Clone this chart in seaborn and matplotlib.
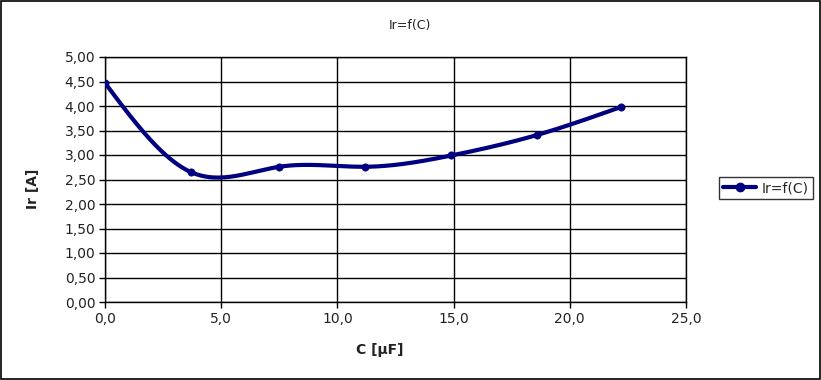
import numpy as np
import pandas as pd
import matplotlib
matplotlib.use("Agg")
import matplotlib.pyplot as plt
import seaborn as sns
from matplotlib.patches import Rectangle
from matplotlib.lines import Line2D
from matplotlib.ticker import FuncFormatter

# data
c_uF = [0.0, 3.7, 7.5, 11.2, 14.9, 18.6, 22.2]
ir_A = [4.47, 2.65, 2.76, 2.76, 2.99, 3.41, 3.98]
x_ticks = [0, 5, 10, 15, 20, 25]
y_ticks = [0, 0.5, 1, 1.5, 2, 2.5, 3, 3.5, 4, 4.5, 5]

LINE_COLOR = "#000080"


def natural_spline(x, y, n=400):
    # smooth line through the points, like the office "cubic spline" option
    x = np.asarray(x, float)
    y = np.asarray(y, float)
    k = len(x)
    h = np.diff(x)
    A = np.zeros((k, k))
    b = np.zeros(k)
    A[0, 0] = A[-1, -1] = 1
    for i in range(1, k - 1):
        A[i, i - 1] = h[i - 1]
        A[i, i] = 2 * (h[i - 1] + h[i])
        A[i, i + 1] = h[i]
        b[i] = 6 * ((y[i + 1] - y[i]) / h[i] - (y[i] - y[i - 1]) / h[i - 1])
    m = np.linalg.solve(A, b)
    xs = np.linspace(x[0], x[-1], n)
    idx = np.clip(np.searchsorted(x, xs) - 1, 0, k - 2)
    t0 = xs - x[idx]
    t1 = x[idx + 1] - xs
    hh = h[idx]
    ys = (m[idx] * t1 ** 3 + m[idx + 1] * t0 ** 3) / (6 * hh) \
        + (y[idx] / hh - m[idx] * hh / 6) * t1 \
        + (y[idx + 1] / hh - m[idx + 1] * hh / 6) * t0
    return xs, ys


sns.set_style("white")
plt.rcParams["font.family"] = ["DejaVu Sans"]

fig = plt.figure(figsize=(8.21, 3.80), dpi=100)
ax = fig.add_axes([105 / 821, 78 / 380, 581 / 821, 245 / 380])

xs, ys = natural_spline(c_uF, ir_A)
curve = pd.DataFrame({"C": xs, "Ir": ys})
points = pd.DataFrame({"C": c_uF, "Ir": ir_A})

sns.lineplot(data=curve, x="C", y="Ir", ax=ax, color=LINE_COLOR, linewidth=3,
             sort=False, zorder=3)
sns.scatterplot(data=points, x="C", y="Ir", ax=ax, color=LINE_COLOR, s=28,
                edgecolor=LINE_COLOR, zorder=4)

ax.set_xlim(0, 25)
ax.set_ylim(0, 5)
ax.set_xticks(x_ticks)
ax.set_yticks(y_ticks)
ax.xaxis.set_major_formatter(FuncFormatter(lambda v, p: f"{v:.1f}".replace(".", ",")))
ax.yaxis.set_major_formatter(FuncFormatter(lambda v, p: f"{v:.2f}".replace(".", ",")))
ax.grid(True, color="black", linewidth=1)
ax.tick_params(axis="both", direction="out", length=4, width=1, color="black",
               labelsize=10, labelcolor="#222222", pad=3, left=True, bottom=True)
for s in ax.spines.values():
    s.set_color("black")
    s.set_linewidth(1)
ax.set_xlabel("")
ax.set_ylabel("")

fig.text(410 / 821, 1 - 25 / 380, "Ir=f(C)", ha="center", va="center", fontsize=9,
         color="#222222")
fig.text(380 / 821, 1 - 350 / 380, "C [µF]", ha="center", va="center", fontsize=10,
         fontweight="bold", color="#222222")
fig.text(33 / 821, 1 - 189 / 380, "Ir [A]", ha="center", va="center", fontsize=10,
         fontweight="bold", rotation=90, color="#222222")

handle = Line2D([], [], color=LINE_COLOR, linewidth=3, marker="o", markersize=6)
leg = fig.legend([handle], ["Ir=f(C)"], loc="center", bbox_to_anchor=(766 / 821, 1 - 188 / 380),
                 frameon=True, fancybox=False, edgecolor="black", fontsize=10,
                 handlelength=2.4, handletextpad=0.4, borderpad=0.3, borderaxespad=0)
leg.get_frame().set_linewidth(1)

fig.patches.append(Rectangle((0.0008, 0.0015), 0.9984, 0.997, transform=fig.transFigure,
                             fill=False, edgecolor="black", linewidth=1.2))

fig.savefig("out.png", dpi=100)
